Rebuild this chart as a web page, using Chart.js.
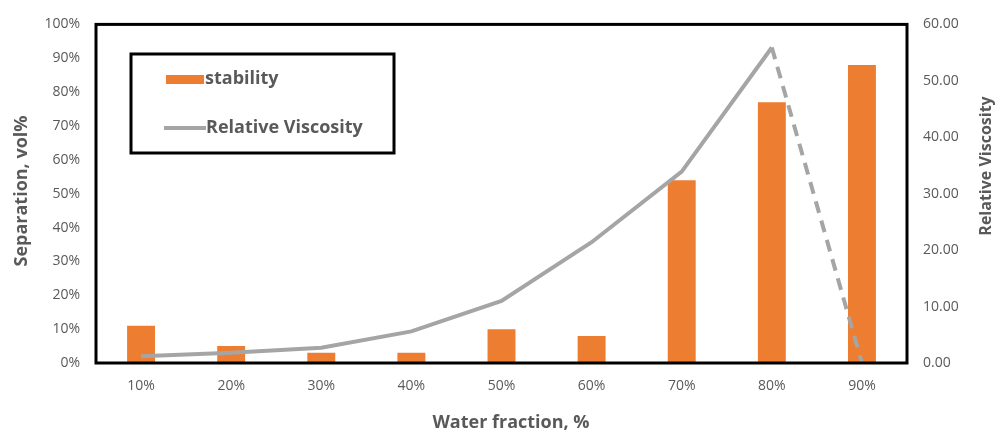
<!DOCTYPE html>
<html><head><meta charset="utf-8">
<script src="https://cdn.jsdelivr.net/npm/chart.js@4"></script>
<style>html,body{margin:0;padding:0;background:#fff}#wrap{width:998px;height:435px}</style>
</head><body><div id="wrap"><canvas id="c" width="998" height="435"></canvas></div>
<script>
const categories = ['10%','20%','30%','40%','50%','60%','70%','80%','90%'];
const stability = [11, 5, 3, 3, 10, 8, 54, 77, 88];
const relativeViscosity = [1.2, 1.8, 2.7, 5.6, 11.0, 21.4, 33.9, 55.9, 0];
const seriesNames = ['stability', 'Relative Viscosity'];
const axisTitles = { x: 'Water fraction, %', y: 'Separation, vol%', y1: 'Relative Viscosity' };
const dashedFromIndex = 7;

const FONT = '"Open Sans", sans-serif';
const TXT = '#595959';

const framePlugin = {
  id: 'frame',
  afterDatasetsDraw(chart) {
    const {ctx, chartArea: a} = chart;
    ctx.save();
    ctx.strokeStyle = '#000'; ctx.lineWidth = 3;
    ctx.strokeRect(a.left, a.top, a.right - a.left, a.bottom - a.top);
    // legend box
    ctx.strokeRect(131, 54, 263, 99);
    ctx.font = 'bold 18px ' + FONT;
    ctx.textBaseline = 'middle'; ctx.textAlign = 'left';
    ctx.fillStyle = chart.data.datasets[0].backgroundColor;
    ctx.fillRect(166, 75, 38, 9);
    ctx.fillStyle = TXT;
    ctx.fillText(chart.data.datasets[0].label, 205, 79);
    ctx.strokeStyle = chart.data.datasets[1].borderColor; ctx.lineWidth = 4;
    ctx.beginPath(); ctx.moveTo(164, 128); ctx.lineTo(206, 128); ctx.stroke();
    ctx.fillText(chart.data.datasets[1].label, 206, 128);
    // axis titles
    ctx.font = 'bold 18px ' + FONT;
    ctx.textAlign = 'center'; ctx.textBaseline = 'middle';
    ctx.fillText(axisTitles.x, 511, 423);
    ctx.save(); ctx.translate(22, 191); ctx.rotate(-Math.PI / 2);
    ctx.fillText(axisTitles.y, 0, 0); ctx.restore();
    ctx.font = 'bold 16px ' + FONT;
    ctx.save(); ctx.translate(986, 166); ctx.rotate(-Math.PI / 2);
    ctx.fillText(axisTitles.y1, 0, 0); ctx.restore();
    ctx.restore();
  }
};

new Chart(document.getElementById('c'), {
  data: {
    labels: categories,
    datasets: [
      { type: 'bar', label: seriesNames[0], data: stability, backgroundColor: '#ED7D31',
        yAxisID: 'y', categoryPercentage: 1, barPercentage: 0.31, order: 2 },
      { type: 'line', label: seriesNames[1], data: relativeViscosity, borderColor: '#A5A5A5',
        backgroundColor: '#A5A5A5', borderWidth: 4, pointRadius: 0, tension: 0, yAxisID: 'y1', order: 1,
        segment: { borderDash: c => c.p0DataIndex >= dashedFromIndex ? [12, 8] : undefined } }
    ]
  },
  options: {
    responsive: false, animation: false,
    layout: { padding: { top: 18, left: 0, right: 0, bottom: 0 } },
    plugins: { legend: { display: false }, tooltip: { enabled: false } },
    scales: {
      x: {
        grid: { display: false, drawTicks: false }, border: { display: false },
        ticks: { color: TXT, font: { family: FONT, size: 14 }, padding: 15 },
        afterFit(s) { s.height = 72; }
      },
      y: {
        position: 'left', min: 0, max: 100,
        grid: { display: false, drawTicks: false }, border: { display: false },
        ticks: { stepSize: 10, color: TXT, font: { family: FONT, size: 14 }, padding: 16, callback: v => v + '%' },
        afterFit(s) { s.width = 96; }
      },
      y1: {
        position: 'right', min: 0, max: 60,
        grid: { display: false, drawTicks: false }, border: { display: false },
        ticks: { stepSize: 10, color: TXT, font: { family: FONT, size: 14 }, padding: 16, callback: v => v.toFixed(2) },
        afterFit(s) { s.width = 91; }
      }
    }
  },
  plugins: [framePlugin]
});
</script></body></html>
